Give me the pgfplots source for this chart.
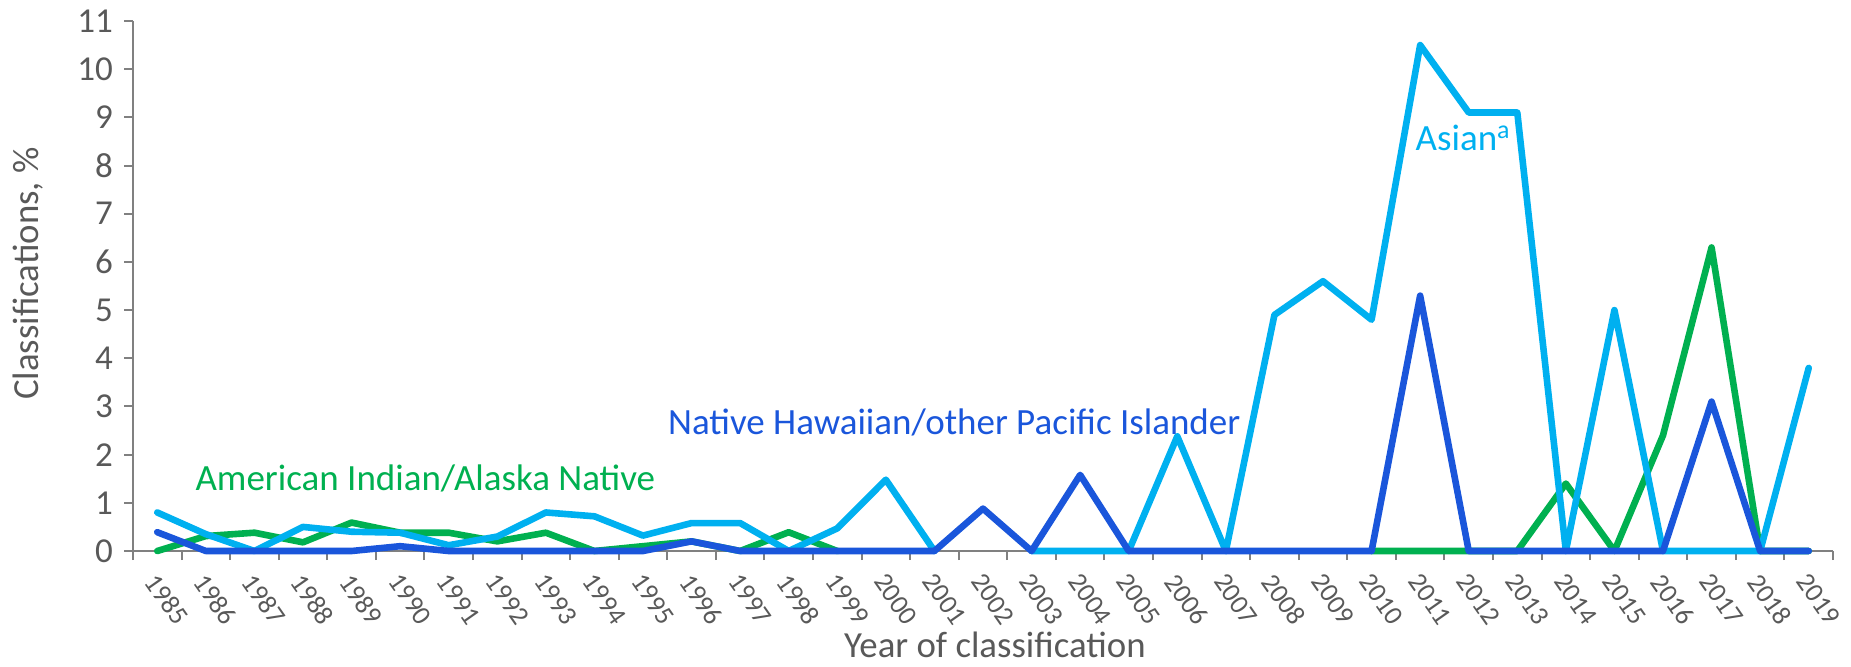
\documentclass[border=0pt]{standalone}
\usepackage{pgfplots}
\pgfplotsset{compat=1.18}
\usepackage{fontspec}
\setmainfont{Carlito}
\definecolor{asian}{HTML}{00B0F0}
\definecolor{aian}{HTML}{00B050}
\definecolor{nhpi}{HTML}{1A56DB}
\definecolor{txtgray}{HTML}{595959}
\definecolor{axgray}{HTML}{808080}
\begin{document}
\begin{tikzpicture}
\useasboundingbox (0,0) rectangle (925.5pt,333pt);
\begin{axis}[
  at={(66.5pt,57.5pt)}, anchor=south west,
  scale only axis, width=850pt, height=265pt,
  xmin=-0.5, xmax=34.5, ymin=0, ymax=11,
  axis lines*=left,
  axis line style={axgray, line width=1pt},
  tick align=outside,
  xtick={0,...,34},
  xticklabel={\pgfmathparse{int(1985+\tick)}\pgfmathresult},
  major x tick style={draw=none},
  minor xtick={-0.5,0.5,...,34.5},
  minor x tick style={axgray, line width=1pt},
  minor tick length=4.5pt,
  ytick={0,...,11},
  major y tick style={axgray, line width=1pt},
  major tick length=4.5pt,
  /pgf/number format/assume math mode=true,
  yticklabel style={font=\fontsize{17.5}{20}\selectfont, text=txtgray, xshift=-2pt},
  xticklabel style={font=\fontsize{13.5}{15}\selectfont, text=txtgray, rotate=-55, anchor=north west, xshift=3.5pt, yshift=-1pt, inner sep=1.5pt},
  ylabel={Classifications, \%},
  xlabel={Year of classification},
  label style={font=\fontsize{18.4}{22}\selectfont, text=txtgray},
  ylabel style={at={(axis description cs:-0.0618,0.5236)}, anchor=center},
  xlabel style={at={(axis description cs:0.507,-0.177)}, anchor=center},
  unbounded coords=jump,
  every axis plot/.append style={line width=3.3pt, line join=round, line cap=round},
  clip=false,
]
\addplot[aian] coordinates {
(0,0) (1,0.31) (2,0.38) (3,0.18) (4,0.59) (5,0.38) (6,0.38) (7,0.2) (8,0.38) (9,0)
(10,0.1) (11,0.2) (12,0) (13,0.39) (14,0) (15,nan) (24,nan)
(25,0) (26,0) (27,0) (28,0) (29,1.4) (30,0) (31,2.4) (32,6.3) (33,0) (34,0)
};
\addplot[asian] coordinates {
(0,0.8) (1,0.35) (2,0) (3,0.5) (4,0.4) (5,0.38) (6,0.12) (7,0.3) (8,0.8) (9,0.72)
(10,0.32) (11,0.58) (12,0.58) (13,0) (14,0.47) (15,1.48) (16,0) (17,nan) (18,0) (19,0)
(20,0) (21,2.38) (22,0) (23,4.9) (24,5.6) (25,4.8) (26,10.5) (27,9.1) (28,9.1) (29,0)
(30,5.0) (31,0) (32,0) (33,0) (34,3.8)
};
\addplot[nhpi] coordinates {
(0,0.39) (1,0) (2,0) (3,0) (4,0) (5,0.1) (6,0) (7,0) (8,0) (9,0)
(10,0) (11,0.2) (12,0) (13,0) (14,0) (15,0) (16,0) (17,0.88) (18,0) (19,1.58)
(20,0) (21,0) (22,0) (23,0) (24,0) (25,0) (26,5.3) (27,0) (28,0) (29,0)
(30,0) (31,0) (32,3.1) (33,0) (34,0)
};
\node[anchor=west, text=aian, font=\fontsize{18.5}{22}\selectfont, inner sep=0pt] at (axis cs:0.78,1.5) {American Indian/Alaska Native};
\node[anchor=west, text=nhpi, font=\fontsize{18.5}{22}\selectfont, inner sep=0pt] at (axis cs:10.51,2.66) {Native Hawaiian/other Pacific Islander};
\node[anchor=west, text=asian, font=\fontsize{18.5}{22}\selectfont, inner sep=0pt] at (axis cs:25.9,8.57) {Asian\textsuperscript{a}};
\end{axis}
\end{tikzpicture}
\end{document}
